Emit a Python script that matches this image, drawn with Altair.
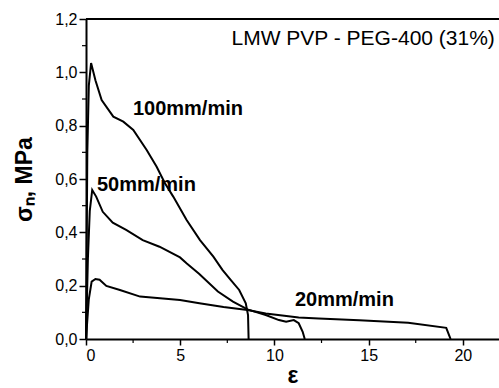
import altair as alt
import pandas as pd

# Curves (strain ε, nominal stress σn in MPa)
x100 = [0, 0.07, 0.15, 0.27, 0.5, 0.83, 1.45, 1.98, 2.51, 3.22, 3.75, 4.19, 4.63, 5.34, 6.05, 6.76, 7.24, 7.7, 8.13, 8.48, 8.6, 8.62, 8.63]
y100 = [0, 0.7, 0.95, 1.035, 0.97, 0.896, 0.834, 0.815, 0.784, 0.709, 0.646, 0.584, 0.534, 0.446, 0.371, 0.309, 0.259, 0.22, 0.184, 0.134, 0.09, 0.03, 0]

x50 = [0, 0.1, 0.2, 0.33, 0.54, 0.89, 1.42, 2.13, 3.01, 3.9, 4.99, 5.35, 6.0, 7.0, 7.8, 8.57, 9.54, 10.24, 10.62, 11.03, 11.29, 11.5, 11.61]
y50 = [0, 0.3, 0.48, 0.559, 0.534, 0.477, 0.436, 0.409, 0.371, 0.346, 0.306, 0.283, 0.245, 0.178, 0.14, 0.111, 0.09, 0.071, 0.065, 0.071, 0.059, 0.027, 0]

x20 = [0, 0.15, 0.3, 0.5, 0.72, 1.08, 1.8, 2.87, 3.93, 4.99, 6.02, 7.3, 8.57, 9.54, 11.29, 12.35, 14.5, 17.1, 19.12, 19.3, 19.35]
y20 = [0, 0.15, 0.215, 0.225, 0.222, 0.199, 0.184, 0.159, 0.153, 0.146, 0.134, 0.12, 0.109, 0.096, 0.081, 0.077, 0.07, 0.061, 0.042, 0.009, 0]

series_names = ["100mm/min", "50mm/min", "20mm/min"]

# Annotations
label_text = ["100mm/min", "50mm/min", "20mm/min"]
label_x = [2.49, 0.58, 11.09]
label_y = [0.862, 0.579, 0.146]
title_text = ["LMW PVP - PEG-400 (31%)"]
title_x = [21.7]
title_y = [1.125]

x_major = [0, 5, 10, 15, 20]
x_minor = [2.5, 7.5, 12.5, 17.5]
y_major = [0.0, 0.2, 0.4, 0.6, 0.8, 1.0, 1.2]
y_minor = [0.1, 0.3, 0.5, 0.7, 0.9, 1.1]

rows = []
for name, xs, ys in zip(series_names, [x100, x50, x20], [y100, y50, y20]):
    for i, (a, b) in enumerate(zip(xs, ys)):
        rows.append({"series": name, "eps": a, "sigma": b, "i": i})
df = pd.DataFrame(rows)

FONT = "Liberation Sans"
W, H = 413, 320
xscale = alt.Scale(domain=[0, 21.92], nice=False, zero=False)
yscale = alt.Scale(domain=[0, 1.2], nice=False)

lines = alt.Chart(df).mark_line(color="black", strokeWidth=2).encode(
    x=alt.X("eps:Q", scale=xscale,
            axis=alt.Axis(values=x_major, title="ε", titleFont=FONT, titleFontSize=23,
                          titleFontWeight="bold", titlePadding=1, labelFont=FONT,
                          labelFontSize=16, labelColor="black", tickColor="black",
                          tickSize=6, tickWidth=1.5, domainColor="black", domainWidth=2,
                          grid=False, labelPadding=2)),
    y=alt.Y("sigma:Q", scale=yscale,
            axis=alt.Axis(values=y_major, title="σₙ, MPa", titleFont=FONT, titleFontSize=23,
                          titleFontWeight="bold", titlePadding=18, labelFont=FONT,
                          labelFontSize=16, labelColor="black", tickColor="black",
                          tickSize=7, tickWidth=1.5, domainColor="black", domainWidth=2,
                          grid=False, labelPadding=2,
                          labelExpr="replace(format(datum.value, '.1f'), '.', ',')")),
    detail="series:N",
    order="i:Q",
)

top_spine = alt.Chart(pd.DataFrame({"v": [1.2]})).mark_rule(color="black", strokeWidth=2).encode(
    y=alt.Y("v:Q", scale=yscale), x=alt.value(0), x2=alt.value(W)
)

xminor = alt.Chart(pd.DataFrame({"v": x_minor})).mark_rule(color="black", strokeWidth=1.2).encode(
    x=alt.X("v:Q", scale=xscale), y=alt.value(H), y2=alt.value(H + 4)
)
yminor = alt.Chart(pd.DataFrame({"v": y_minor})).mark_rule(color="black", strokeWidth=1.2).encode(
    y=alt.Y("v:Q", scale=yscale), x=alt.value(0), x2=alt.value(-4)
)

labels = alt.Chart(pd.DataFrame({"t": label_text, "x": label_x, "y": label_y})).mark_text(
    align="left", baseline="middle", font=FONT, fontSize=20, fontWeight="bold", color="black"
).encode(x=alt.X("x:Q", scale=xscale), y=alt.Y("y:Q", scale=yscale), text="t:N")

title = alt.Chart(pd.DataFrame({"t": title_text, "x": title_x, "y": title_y})).mark_text(
    align="right", baseline="middle", font=FONT, fontSize=21, color="black"
).encode(x=alt.X("x:Q", scale=xscale), y=alt.Y("y:Q", scale=yscale), text="t:N")

chart = alt.layer(lines, top_spine, xminor, yminor, labels, title).properties(
    width=W, height=H,
    autosize=alt.AutoSizeParams(type="none"),
    padding={"left": 86, "top": 19, "right": 0, "bottom": 49},
    background="white",
).configure_view(strokeWidth=0)

chart.save("out.html", embed_options={"renderer": "svg", "actions": False})
